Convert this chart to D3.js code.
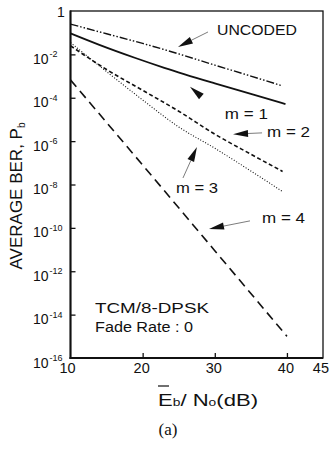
<!DOCTYPE html>
<html>
<head>
<meta charset="utf-8">
<script src="https://cdn.jsdelivr.net/npm/d3@7"></script>
<style>
  body { margin: 0; background: #fff; }
  svg { display: block; }
  text { font-family: "Liberation Sans", Arial, Helvetica, sans-serif; fill: #111; }
</style>
</head>
<body>
<svg id="chart" width="330" height="455"></svg>
<script>

// values (Eb/No in dB, BER)
const uncodedE = [10, 15, 20, 25, 30, 35, 39.4];
const uncodedBer = [0.25, 0.089, 0.032, 0.0105, 3.2e-3, 1e-3, 3.5e-4];

const m1E = [10, 14, 19, 23, 30, 35, 39.8];
const m1Ber = [0.093, 0.0275, 6.8e-3, 2.4e-3, 4.6e-4, 1.5e-4, 5.1e-5];

const m2E = [10, 15, 20, 25, 30, 35, 39.4];
const m2Ber = [0.025, 2.0e-3, 2.2e-4, 2.4e-5, 2.1e-6, 2.5e-7, 4.0e-8];

const m3E = [10, 15, 20, 25, 30, 35, 39.4];
const m3Ber = [0.035, 1.6e-3, 7.9e-5, 4.5e-6, 4.7e-7, 4.2e-8, 4.7e-9];

const m4E = [10, 20, 30, 40];
const m4Ber = [6.6e-4, 7.9e-8, 8.9e-12, 1e-15];

const xTicks = [10, 20, 30, 40, 45];
const yTickExp = [-2, -4, -6, -8, -10, -12, -14, -16];

// annotation labels: [text, E, BER, width]
const labels = [
  ['UNCODED', 30.31, 0.078, 80],
  ['m = 1', 31.4, 1.05e-5, 43],
  ['m = 2', 37.24, 1.55e-6, 43],
  ['m = 3', 24.62, 4.1e-9, 42],
  ['m = 4', 36.55, 1.67e-10, 43],
  ['TCM/8-DPSK', 13.4, 1.2e-14, 114],
  ['Fade Rate : 0', 13.4, 1.6e-15, 98]
];

// arrows: [tailE, tailBer, tipE, tipBer, drawLeader]
const arrows = [
  [29.06, 0.108, 24.9, 0.022, true],
  [28.23, 1.07e-4, 26.56, 3.2e-4, false],
  [36.55, 2.4e-6, 32.53, 2.1e-6, true],
  [25.59, 2.0e-8, 27.53, 5.4e-7, true],
  [34.88, 2.1e-10, 29.2, 8.9e-11, true]
];

const svg = d3.select('#chart');

const x = d3.scaleLinear().domain([10, 45]).range([70.5, 323]);
const y = d3.scaleLog().domain([1e-16, 1]).range([358, 11]);

// frame
svg.append('rect')
  .attr('x', x(10)).attr('y', y(1))
  .attr('width', x(45) - x(10)).attr('height', y(1e-16) - y(1))
  .attr('fill', 'none').attr('stroke', '#111').attr('stroke-width', 1.3);
svg.append('line')
  .attr('x1', x(10)).attr('x2', x(10)).attr('y1', y(1) - 0.5).attr('y2', y(1e-16) + 1)
  .attr('stroke', '#111').attr('stroke-width', 2);
svg.append('line')
  .attr('x1', x(10) - 1).attr('x2', x(45)).attr('y1', y(1e-16)).attr('y2', y(1e-16))
  .attr('stroke', '#111').attr('stroke-width', 2);

// inward ticks
svg.append('g')
  .attr('transform', `translate(${x(10)},0)`)
  .call(d3.axisLeft(y).tickValues(yTickExp.slice(0, -1).map(e => Math.pow(10, e))).tickSize(-5).tickFormat(''))
  .call(g => g.select('.domain').remove())
  .call(g => g.selectAll('line').attr('stroke', '#111').attr('stroke-width', 1.3));

svg.append('g')
  .attr('transform', `translate(0,${y(1e-16)})`)
  .call(d3.axisBottom(x).tickValues([20, 30, 40]).tickSize(-5).tickFormat(''))
  .call(g => g.select('.domain').remove())
  .call(g => g.selectAll('line').attr('stroke', '#111').attr('stroke-width', 1.3));

// y tick labels
svg.append('text').attr('x', 57).attr('y', y(1) + 6).attr('font-size', 14).text('1');
yTickExp.forEach(e => {
  const t = svg.append('text').attr('x', 33).attr('y', y(Math.pow(10, e)) + 9.5).attr('font-size', 14);
  t.append('tspan').text('10');
  t.append('tspan').attr('font-size', 9).attr('dy', -6.5).attr('dx', 1).text(e);
});

// x tick labels
xTicks.forEach(v => {
  svg.append('text')
    .attr('x', v === 45 ? 329 : x(v) + (v === 10 ? -3 : -1))
    .attr('y', 373)
    .attr('font-size', 14.5)
    .attr('text-anchor', v === 45 ? 'end' : 'middle')
    .text(v);
});

// curves
const line = d3.line().x(d => x(d[0])).y(d => y(d[1])).curve(d3.curveMonotoneX);
const series = [
  [uncodedE, uncodedBer, '8,2,1.5,2,1.5,2', 1.4],
  [m1E, m1Ber, null, 1.8],
  [m2E, m2Ber, '4,2.6', 1.6],
  [m3E, m3Ber, '1,1.8', 1.1],
  [m4E, m4Ber, '9,5.5', 1.6]
];
series.forEach(([es, bs, dash, w]) => {
  svg.append('path')
    .datum(es.map((e, i) => [e, bs[i]]))
    .attr('d', line)
    .attr('fill', 'none')
    .attr('stroke', '#111')
    .attr('stroke-width', w)
    .attr('stroke-dasharray', dash);
});

// arrows
arrows.forEach(([te, tb, he, hb, leader]) => {
  const x0 = x(te), y0 = y(tb), x1 = x(he), y1 = y(hb);
  const a = Math.atan2(y1 - y0, x1 - x0);
  const len = 15, hw = 3.6;
  const bx = x1 - len * Math.cos(a), by = y1 - len * Math.sin(a);
  if (leader) {
    svg.append('line')
      .attr('x1', x0).attr('y1', y0).attr('x2', bx).attr('y2', by)
      .attr('stroke', '#444').attr('stroke-width', 0.7);
  }
  const pts = [
    [x1, y1],
    [bx + hw * Math.sin(a), by - hw * Math.cos(a)],
    [bx - hw * Math.sin(a), by + hw * Math.cos(a)]
  ];
  svg.append('path').attr('d', 'M' + pts.join('L') + 'Z').attr('fill', '#111');
});

// annotation text
labels.forEach(([s, e, b, w]) => {
  svg.append('text')
    .attr('x', x(e)).attr('y', y(b))
    .attr('font-size', 14)
    .attr('textLength', w)
    .attr('lengthAdjust', 'spacingAndGlyphs')
    .text(s);
});

// axis titles
const yt = svg.append('text')
  .attr('transform', 'translate(22,196) rotate(-90)')
  .attr('text-anchor', 'middle')
  .attr('font-size', 17);
yt.append('tspan').text('AVERAGE BER, P');
yt.append('tspan').attr('font-size', 10).attr('dy', 3).text('b');

const xt = svg.append('text')
  .attr('x', 158).attr('y', 406)
  .attr('font-size', 16)
  .attr('textLength', 100)
  .attr('lengthAdjust', 'spacingAndGlyphs');
xt.append('tspan').text('E');
xt.append('tspan').attr('font-size', 10).text('b');
xt.append('tspan').text('/ N');
xt.append('tspan').attr('font-size', 10).text('o');
xt.append('tspan').text('(dB)');
svg.append('line')
  .attr('x1', 158).attr('x2', 169).attr('y1', 386).attr('y2', 386)
  .attr('stroke', '#111').attr('stroke-width', 1.2);

svg.append('text')
  .attr('x', 168).attr('y', 435)
  .attr('text-anchor', 'middle')
  .attr('font-size', 17)
  .style('font-family', '"Liberation Serif", "Times New Roman", serif')
  .text('(a)');

</script>
</body>
</html>
